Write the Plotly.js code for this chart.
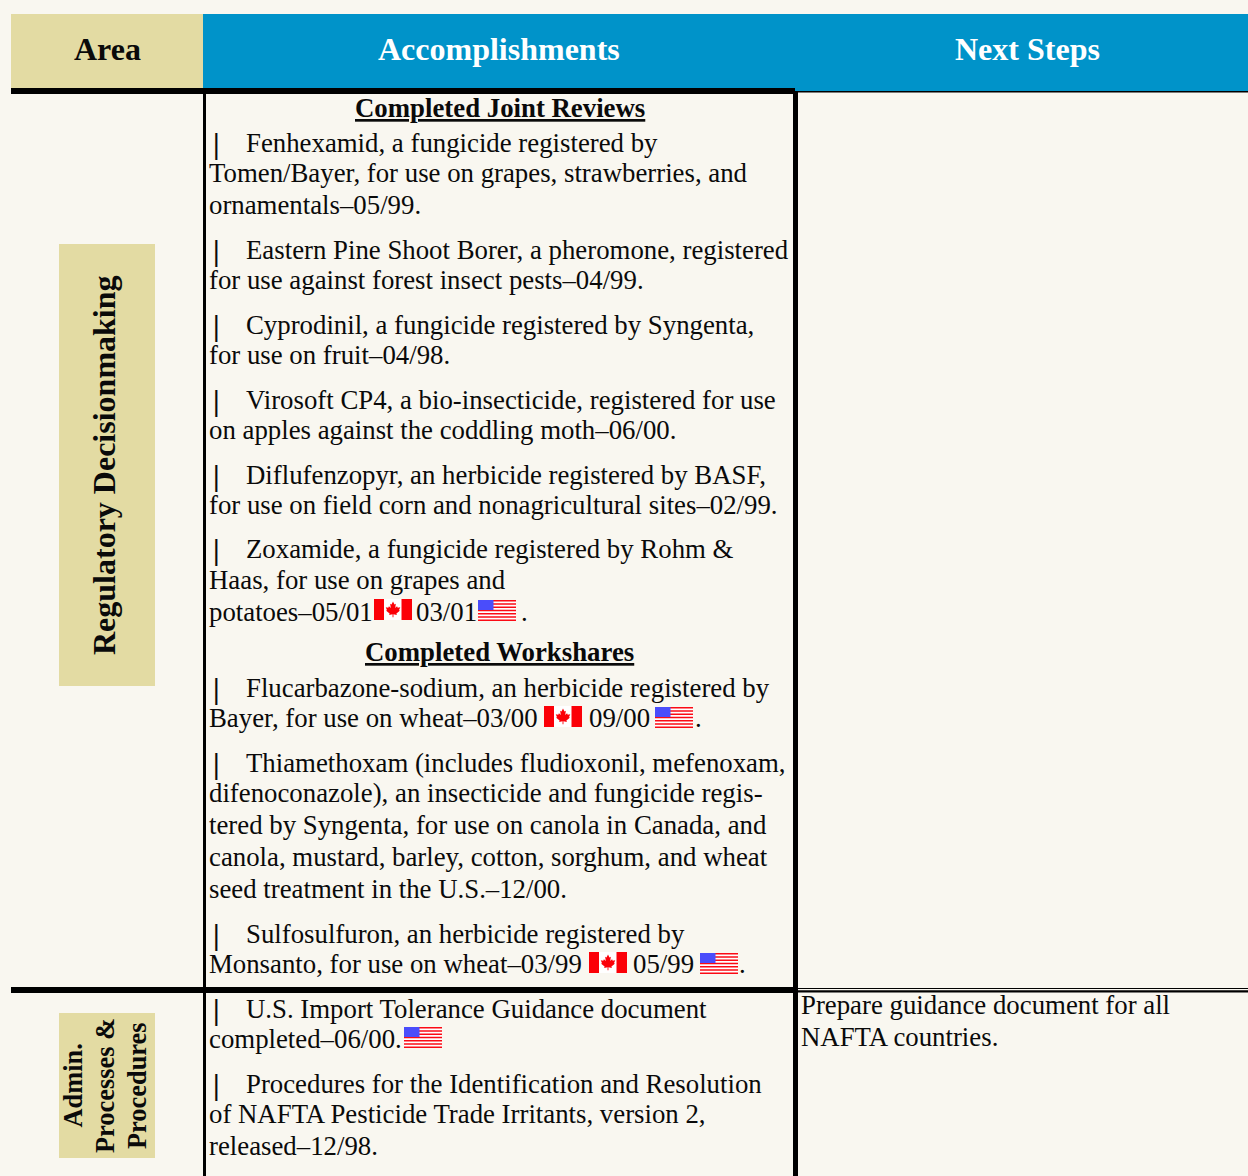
<!DOCTYPE html>
<html><head><meta charset="utf-8">
<script src="https://cdn.plot.ly/plotly-3.0.1.min.js"></script>
<style>html,body{margin:0;padding:0;background:#f9f7f0}#c{width:1248px;height:1176px}</style>
</head><body><div id="c"></div>
<script>
const headers = ["Area","Accomplishments","Next Steps"];
const areaLabels = ["Regulatory Decisionmaking","Admin.","Processes &","Procedures"];
const sectionTitles = ["Completed Joint Reviews","Completed Workshares"];
const bulletLines = ["Fenhexamid, a fungicide registered by","Eastern Pine Shoot Borer, a pheromone, registered","Cyprodinil, a fungicide registered by Syngenta,","Virosoft CP4, a bio-insecticide, registered for use","Diflufenzopyr, an herbicide registered by BASF,","Zoxamide, a fungicide registered by Rohm &","Flucarbazone-sodium, an herbicide registered by","Thiamethoxam (includes fludioxonil, mefenoxam,","Sulfosulfuron, an herbicide registered by","U.S. Import Tolerance Guidance document","Procedures for the Identification and Resolution"];
const plainLines = ["Tomen/Bayer, for use on grapes, strawberries, and","ornamentals–05/99.","for use against forest insect pests–04/99.","for use on fruit–04/98.","on apples against the coddling moth–06/00.","for use on field corn and nonagricultural sites–02/99.","Haas, for use on grapes and","potatoes–05/01","03/01",".","Bayer, for use on wheat–03/00","09/00",".","difenoconazole), an insecticide and fungicide regis-","tered by Syngenta, for use on canola in Canada, and","canola, mustard, barley, cotton, sorghum, and wheat","seed treatment in the U.S.–12/00.","Monsanto, for use on wheat–03/99","05/99",".","completed–06/00.","of NAFTA Pesticide Trade Irritants, version 2,","released–12/98."];
const nextSteps = ["Prepare guidance document for all","NAFTA countries."];

// layout (pixel frame of the page)
const bg="#f9f7f0", khaki="#e3dba3", blue="#0093c9", ink="#0a0a0a";
const F="Liberation Serif, Times New Roman, serif";
const bulletY=[143,250,325,400,475,549,688,763,934,1009,1084];
const plainPos=[[208,173],[208,205],[208,280],[208,355],[208,430],[208,505],[208,580],[208,612],[415,612],[520,612],[208,718],[588,718],[694,718],[208,793],[208,825],[208,857],[208,889],[208,964],[632,964],[738,964],[208,1039],[208,1114],[208,1146]];
const canadaFlags=[[374,599],[544,706],[589,952]];
const usFlags=[[478,600],[655,707],[700,953],[404,1027]];

const rect=(x0,y0,x1,y1,c)=>({type:"rect",xref:"x",yref:"y",x0,y0,x1,y1,fillcolor:c,line:{width:0},layer:"below"});
let shapes=[
 rect(11,14,203,88,khaki),
 rect(203,14,1248,91,blue),
 rect(11,88,795,94,"#000"),
 rect(795,91,1248,92.6,"#000"),
 rect(203,94,206,1176,"#000"),
 rect(793,91,798,1176,"#000"),
 rect(11,987,795,993,"#000"),
 rect(798,988,1248,989,"#000"),
 rect(798,990.2,1248,992.4,"#000"),
 rect(59,244,155,686,khaki),
 rect(59,1013,155,1158,khaki)
];
const leaf=[[0,-1],[.2,-.62],[.38,-.72],[.3,-.12],[.55,-.38],[.64,-.16],[.98,-.22],[.82,.14],[.92,.24],[.46,.62],[.52,.82],[.06,.72],[.06,1.1]];
function canada(x,y){
 const w=38,h=21;
 shapes.push(rect(x,y,x+w,y+h,"#ffffff"),rect(x,y,x+10,y+h,"#fb0007"),rect(x+w-10.5,y,x+w,y+h,"#fb0007"));
 const cx=x+w/2,cy=y+h/2-.5,s=7.4;
 const pts=leaf.concat(leaf.slice(1).reverse().map(p=>[-p[0],p[1]]));
 shapes.push({type:"path",xref:"x",yref:"y",path:"M"+pts.map(p=>(cx+p[0]*s).toFixed(2)+","+(cy+p[1]*s).toFixed(2)).join("L")+"Z",fillcolor:"#fb0007",line:{width:0},layer:"below"});
}
function us(x,y){
 const w=38,h=21,st=h/13;
 shapes.push(rect(x,y,x+w,y+h,"#ffffff"));
 for(let i=0;i<7;i++)shapes.push(rect(x,y+i*2*st,x+w,y+(i*2+1)*st,"#fb0a14"));
 shapes.push(rect(x,y,x+15.5,y+10,"#4a4dfb"));
}
canadaFlags.forEach(p=>canada(p[0],p[1]));
usFlags.forEach(p=>us(p[0],p[1]));

const SIZE=26.8;
const ann=(text,x,y,o={})=>Object.assign({text,x,y,xref:"x",yref:"y",showarrow:false,xanchor:"left",yanchor:"middle",borderpad:0,
  font:{family:F,size:SIZE,color:ink}},o);
let anns=[];
const hdr=[[107,"#0a0a0a"],[499,"#fff"],[1027,"#fff"]];
headers.forEach((t,i)=>anns.push(ann("<b>"+t+"</b>",hdr[i][0],49,{xanchor:"center",font:{family:F,size:32,color:hdr[i][1]}})));
const areaPos=[[104,465,32],[72,1085.5,26.4],[105,1086,26.4],[137,1086,26.4]];
areaLabels.forEach((t,i)=>anns.push(ann("<b>"+t+"</b>",areaPos[i][0],areaPos[i][1],{xanchor:"center",textangle:-90,font:{family:F,size:areaPos[i][2],color:ink}})));
const secY=[108,652];
sectionTitles.forEach((t,i)=>anns.push(ann("<b>"+t+"</b>",499.5,secY[i],{xanchor:"center",font:{family:F,size:SIZE,color:ink,lineposition:"under"}})));
bulletLines.forEach((t,i)=>{
  anns.push(ann("<b>|</b>",212,bulletY[i],{font:{family:F,size:30,color:ink}}));
  anns.push(ann(t,244.5,bulletY[i]));
});
plainLines.forEach((t,i)=>anns.push(ann(t,plainPos[i][0],plainPos[i][1])));
const nsY=[1005,1037];
nextSteps.forEach((t,i)=>anns.push(ann(t,800,nsY[i])));

Plotly.newPlot("c",[{x:[0,1248],y:[0,1176],mode:"none",type:"scatter",hoverinfo:"skip",showlegend:false}],{
 width:1248,height:1176,margin:{l:0,r:0,t:0,b:0,pad:0},paper_bgcolor:bg,plot_bgcolor:bg,showlegend:false,
 xaxis:{range:[0,1248],visible:false,fixedrange:true},
 yaxis:{range:[1176,0],visible:false,fixedrange:true},
 shapes,annotations:anns
},{displayModeBar:false,staticPlot:true});
</script></body></html>
